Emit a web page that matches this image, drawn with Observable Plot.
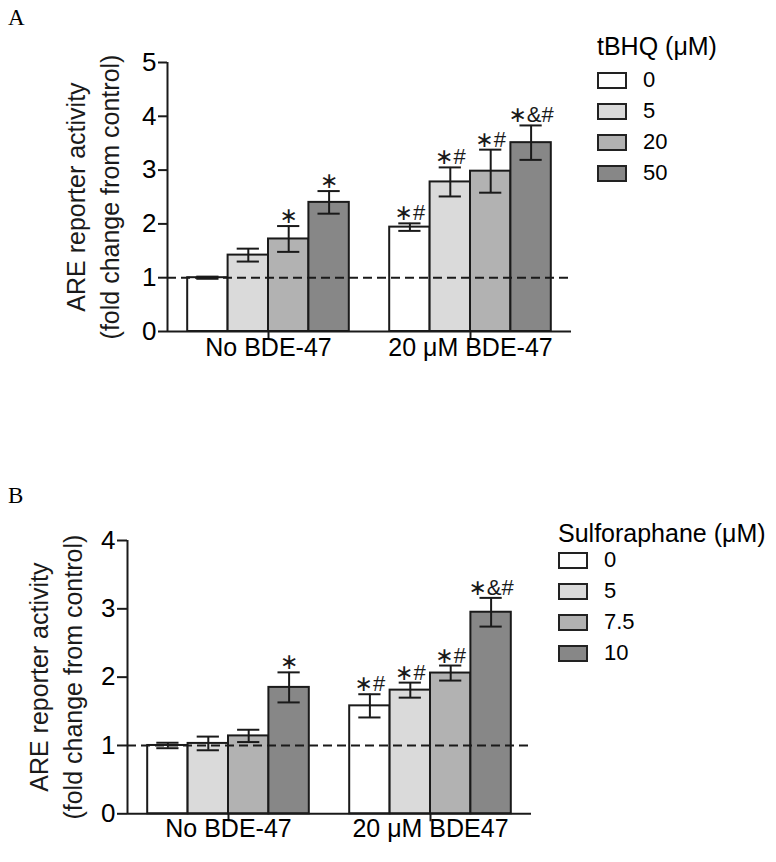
<!DOCTYPE html>
<html><head><meta charset="utf-8">
<script src="https://cdn.jsdelivr.net/npm/d3@7"></script>
<script src="https://cdn.jsdelivr.net/npm/@observablehq/plot@0.6"></script>
<style>
body{margin:0;background:#fff;}
#wrap{position:relative;width:776px;height:862px;font-family:"Liberation Sans",Arial,sans-serif;color:#000;overflow:hidden;}
.abs{position:absolute;left:0;}
.letter{position:absolute;font-family:"Liberation Serif","Times New Roman",serif;font-size:23px;line-height:23px;}
.legtitle{position:absolute;font-size:25px;line-height:25px;white-space:nowrap;}
.sw{position:absolute;box-sizing:border-box;width:30px;height:17px;border:2px solid #222;}
.lab{position:absolute;font-size:22px;line-height:22px;white-space:nowrap;}
</style></head><body>
<div id="wrap"></div>
<script>
// ---------- Panel A data (tBHQ) ----------
const groupsA = ["No BDE-47", "20 \u03BCM BDE-47"];
const dosesA = ["0", "5", "20", "50"];
const noBdeA = [1.00, 1.42, 1.72, 2.40];
const noBdeErrA = [0.02, 0.12, 0.24, 0.21];
const bdeA = [1.94, 2.78, 2.98, 3.51];
const bdeErrA = [0.07, 0.27, 0.40, 0.32];
const noBdeSigA = ["", "", "\u2217", "\u2217"];
const bdeSigA = ["\u2217#", "\u2217#", "\u2217#", "\u2217&#"];
const yTicksA = [0, 1, 2, 3, 4, 5];

// ---------- Panel B data (Sulforaphane) ----------
const groupsB = ["No BDE-47", "20 \u03BCM BDE47"];
const dosesB = ["0", "5", "7.5", "10"];
const noBdeB = [1.00, 1.03, 1.14, 1.85];
const noBdeErrB = [0.04, 0.10, 0.09, 0.22];
const bdeB = [1.58, 1.81, 2.06, 2.95];
const bdeErrB = [0.17, 0.11, 0.11, 0.21];
const noBdeSigB = ["", "", "", "\u2217"];
const bdeSigB = ["\u2217#", "\u2217#", "\u2217#", "\u2217&#"];
const yTicksB = [0, 1, 2, 3, 4];

const fills = ["#ffffff", "#dadada", "#b2b2b2", "#878787"];
const yTitle = "ARE reporter activity\n(fold change from control)";

function buildData(doses, v0, e0, s0, v1, e1, s1) {
  const rows = [];
  [[v0, e0, s0], [v1, e1, s1]].forEach(([v, e, s], g) => {
    v.forEach((val, i) => rows.push({g, s: i, dose: doses[i], v: val, e: e[i], sig: s[i]}));
  });
  return rows;
}

const BW = 0.2;           // bar width in group units
const xs = d => d.g - 2 * BW + BW * d.s;
const xc = d => xs(d) + BW / 2;

function panel(o) {
  const data = buildData(o.doses, o.v0, o.e0, o.s0, o.v1, o.e1, o.s1);
  const yMax = o.yTicks[o.yTicks.length - 1];
  return Plot.plot({
    width: 776,
    height: o.height,
    marginLeft: o.left,
    marginRight: 776 - o.right,
    marginTop: o.top,
    marginBottom: o.height - o.zero,
    style: {fontFamily: "'Liberation Sans', Arial, sans-serif", color: "#000", background: "transparent", overflow: "visible"},
    x: {domain: [-0.5, 1.5], axis: null},
    y: {domain: [0, yMax], axis: null},
    color: {type: "ordinal", domain: o.doses, range: fills},
    marks: [
      Plot.rectY(data, {x1: xs, x2: d => xs(d) + BW, y1: 0, y2: "v", fill: "dose", stroke: "#1a1a1a", strokeWidth: 2}),
      Plot.ruleY([1], {stroke: "#1a1a1a", strokeWidth: 2, strokeDasharray: "9,5"}),
      Plot.ruleX(data, {x: xc, y1: d => d.v - d.e, y2: d => d.v + d.e, stroke: "#1a1a1a", strokeWidth: 2}),
      Plot.ruleY(data, {y: d => d.v + d.e, x1: d => xc(d) - 0.055, x2: d => xc(d) + 0.055, stroke: "#1a1a1a", strokeWidth: 2}),
      Plot.ruleY(data, {y: d => d.v - d.e, x1: d => xc(d) - 0.055, x2: d => xc(d) + 0.055, stroke: "#1a1a1a", strokeWidth: 2}),
      Plot.text(data, {x: xc, y: d => d.v + d.e, text: "sig", lineAnchor: "bottom", dy: -3, fontSize: 22, fill: "#1a1a1a",
        fontFamily: "'Liberation Sans', 'DejaVu Sans', sans-serif"}),
      Plot.ruleY([0], {stroke: "#1a1a1a", strokeWidth: 2}),
      Plot.ruleX([-0.5], {y1: 0, y2: yMax, stroke: "#1a1a1a", strokeWidth: 2}),
      Plot.axisY({ticks: o.yTicks, tickFormat: d3.format("d"), tickSize: o.yTickSize, tickPadding: 2,
        stroke: "#1a1a1a", strokeWidth: 2, fontSize: 26, label: null}),
      Plot.axisX({ticks: [0, 1], tickFormat: i => o.groups[i], tickSize: o.xTickSize, tickPadding: o.xPad,
        stroke: "#1a1a1a", strokeWidth: 2, fontSize: 25, label: null}),
      Plot.text([yTitle], {frameAnchor: "left", rotate: -90, dx: o.titleDx, textAnchor: "middle", lineAnchor: "middle",
        lineHeight: 1.36, fontSize: 25, fill: "#1a1a1a"})
    ]
  });
}

const wrap = document.getElementById("wrap");

// Panel A
const pA = panel({groups: groupsA, doses: dosesA, v0: noBdeA, e0: noBdeErrA, s0: noBdeSigA,
  v1: bdeA, e1: bdeErrA, s1: bdeSigA, yTicks: yTicksA,
  height: 376, top: 62, zero: 331, left: 167, right: 571, yTickSize: 9, xTickSize: 9, xPad: -2, titleDx: -76});
pA.classList.add("abs"); pA.style.top = "0px";
wrap.appendChild(pA);

// Panel B
const pB = panel({groups: groupsB, doses: dosesB, v0: noBdeB, e0: noBdeErrB, s0: noBdeSigB,
  v1: bdeB, e1: bdeErrB, s1: bdeSigB, yTicks: yTicksB,
  height: 390, top: 70, zero: 343.3, left: 127, right: 531, yTickSize: 10, xTickSize: 8, xPad: -3, titleDx: -73});
pB.classList.add("abs"); pB.style.top = "470px";
wrap.appendChild(pB);

function addDiv(cls, text, left, top) {
  const d = document.createElement("div");
  d.className = cls;
  if (text != null) d.textContent = text;
  d.style.left = left + "px";
  d.style.top = top + "px";
  wrap.appendChild(d);
  return d;
}

// Panel letters
addDiv("letter", "A", 8, 6);
addDiv("letter", "B", 8, 484);

// Legends
function legend(title, doses, left, titleTop, firstTop, step) {
  addDiv("legtitle", title, left, titleTop);
  doses.forEach((dz, i) => {
    const top = firstTop + i * step;
    const sw = addDiv("sw", null, left, top);
    sw.style.background = fills[i];
    addDiv("lab", dz, left + 46, top - 3);
  });
}
legend("tBHQ (\u03BCM)", dosesA, 597, 34, 72, 31);
legend("Sulforaphane (\u03BCM)", dosesB, 558, 521, 552, 31);
</script></body></html>
